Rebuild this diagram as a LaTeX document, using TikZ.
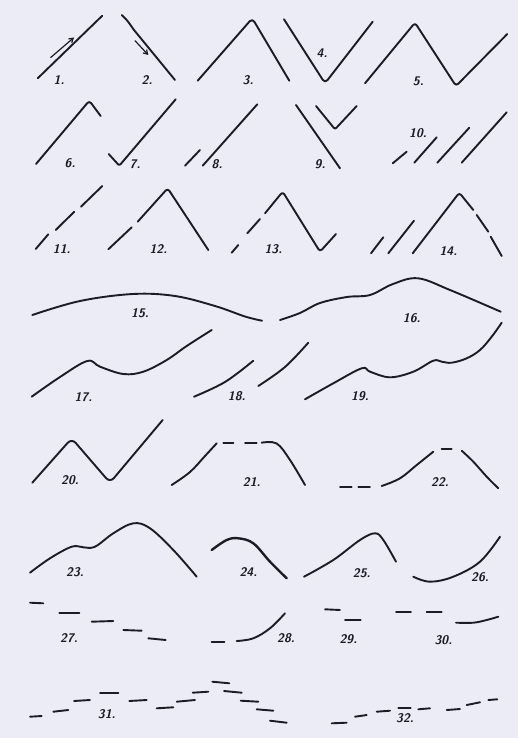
\documentclass[tikz,border=0pt]{standalone}
\usetikzlibrary{arrows.meta}
\definecolor{paper}{HTML}{ECECF6}
\definecolor{inkc}{HTML}{1C1C24}
\tikzset{
  ink/.style={draw=inkc, line width=1.9pt, line cap=round, line join=round},
  thinink/.style={draw=inkc, line width=1.2pt, line cap=round},
  lbl/.style={font=\sffamily\bfseries\slshape\fontsize{12.5}{12.5}\selectfont, text=inkc, inner sep=0pt, anchor=center},
  sm/.style={smooth, tension=0.6}
}
\begin{document}
\begin{tikzpicture}[x=1pt,y=-1pt]
\fill[paper] (0,0) rectangle (518,738);
\useasboundingbox (0,0) rectangle (518,738);

% ---------- row 1
% 1
\draw[ink] (37.7,78.3) -- (102.3,15.7);
\draw[thinink,-{Straight Barb[length=4pt,width=5pt]}] (50.7,57.5) -- (74,37.5);
\node[lbl] (l1) at (59,80) {1.};
% 2
\draw[ink] (121.7,15) .. controls (127,20) .. (134,30) -- (175,80);
\draw[thinink,-{Straight Barb[length=4pt,width=5pt]}] (135,40.7) -- (148.3,55);
\node[lbl] (l2) at (147,80) {2.};
% 3
\draw[ink, rounded corners=4pt] (197.7,80.7) -- (252.3,18.3) -- (289.3,80.7);
\node[lbl] (l3) at (248,80) {3.};
% 4
\draw[ink, rounded corners=4pt] (284,19.3) -- (325,83.3) -- (372.7,21.7);
\node[lbl] (l4) at (322,53) {4.};
% 5
\draw[ink, rounded corners=3pt] (365,83.3) -- (415,22.7) -- (456,86) -- (507.3,34);
\node[lbl] (l5) at (418.3,81.7) {5.};

% ---------- row 2
% 6
\draw[ink, rounded corners=3pt] (36,164) -- (89.3,100.7) -- (100.7,116);
\node[lbl] (l6) at (70,163.3) {6.};
% 7
\draw[ink, rounded corners=2pt] (108.7,154) -- (119.3,165.7) -- (175.7,99.3);
\node[lbl] (l7) at (135,164) {7.};
% 8
\draw[ink] (185,165.7) -- (200,150);
\draw[ink] (202.7,165.7) -- (257.3,104.3);
\node[lbl] (l8) at (217,164) {8.};
% 9
\draw[ink] (296,105) -- (340,168.3);
\draw[ink, rounded corners=2pt] (316,106) -- (335,129.3) -- (356.7,106);
\node[lbl] (l9) at (320,164) {9.};
% 10
\draw[ink] (392.7,163.3) -- (406.7,151.7);
\draw[ink] (414.3,162.7) -- (436.7,137.3);
\draw[ink] (437.3,162.7) -- (469.3,127.7);
\draw[ink] (461.7,162.7) -- (506.7,112.3);
\node[lbl] (l10) at (418,133.3) {10.};

% ---------- row 3
% 11
\draw[ink] (35.7,249) -- (48.3,234.3);
\draw[ink] (55.7,230) -- (74.3,211.7);
\draw[ink] (81,206.7) -- (102.3,186);
\node[lbl] (l11) at (61.7,249.5) {11.};
% 12
\draw[ink] (108.3,249.3) -- (131.7,227.3);
\draw[ink, rounded corners=3pt] (137.7,221.7) -- (167.7,188.3) -- (208.3,250);
\node[lbl] (l12) at (158.3,249.5) {12.};
% 13
\draw[ink] (231.7,252.7) -- (238.3,245);
\draw[ink] (247.3,233.3) -- (260,219);
\draw[ink, rounded corners=3pt] (265,213.3) -- (282.7,191.7) -- (320,251.7) -- (336,234);
\node[lbl] (l13) at (273.3,249.3) {13.};
% 14
\draw[ink] (371,253.3) -- (383.3,237.3);
\draw[ink] (388.3,253.3) -- (414,220.7);
\draw[ink, rounded corners=3pt] (412.7,253.3) -- (459.3,192.7) -- (473.3,210);
\draw[ink] (476.7,215) -- (488.3,231.7);
\draw[ink] (490.7,236.7) -- (501.7,256);
\node[lbl] (l14) at (448.3,250.7) {14.};

% ---------- curves 15-19
% 15
\draw[ink] plot[sm] coordinates {(32.3,315) (80,301) (133,294) (175,296) (215,306) (245,316.5) (262,320.7)};
\node[lbl] (l15) at (140,313.3) {15.};
% 16
\draw[ink] plot[sm] coordinates {(280,320) (300,313) (320,303) (347,297) (370,295) (393,284) (418,278.3) (450,290) (500.7,311.7)};
\node[lbl] (l16) at (411.7,318.3) {16.};
% 17
\draw[ink] plot[sm] coordinates {(31.7,396.7) (60,377) (87.3,361) (100,366.7) (123.3,374) (143.3,371.7) (166.7,360) (186.7,346) (211.7,330)};
\node[lbl] (l17) at (83.3,396.7) {17.};
% 18
\draw[ink] plot[sm] coordinates {(194,396.7) (225,382) (253.3,360.7)};
\draw[ink] plot[sm] coordinates {(258.3,386) (285,367) (308.3,342.7)};
\node[lbl] (l18) at (236.7,396) {18.};
% 19
\draw[ink] plot[sm] coordinates {(305,399.3) (333.3,383.3) (361.7,368.3) (370,371.7) (390,377.3) (413.3,371.7) (433.3,360.7) (441.7,361.7) (451.7,362.7) (466.7,358.3) (480,350) (491.7,336.7) (501.7,322.7)};
\node[lbl] (l19) at (360,396) {19.};

% ---------- 20-22
% 20
\draw[ink, rounded corners=6pt] (32.3,482.7) -- (71.7,438.3) -- (110,482.7) -- (162.7,420);
\node[lbl] (l20) at (70,480) {20.};
% 21
\draw[ink] plot[sm] coordinates {(171.7,485) (190,472) (205,456) (216.7,443.3)};
\draw[ink] (223.3,442.7) -- (233.3,442.7);
\draw[ink] (245,442.7) -- (256.7,442.7);
\draw[ink] plot[sm] coordinates {(261.7,442.7) (276.7,443.5) (290,460) (305,485)};
\node[lbl] (l21) at (251.7,481.7) {21.};
% 22
\draw[ink] (340,487.3) -- (351.7,487.3);
\draw[ink] (358.3,487.3) -- (370,487.3);
\draw[ink] plot[sm] coordinates {(381.7,486) (400,478.3) (416.7,465) (433.3,451.7)};
\draw[ink] (441.7,449.3) -- (451.7,449.3);
\draw[ink] plot[sm] coordinates {(461.7,450.7) (473.3,461.7) (486.7,476.7) (498.3,488.3)};
\node[lbl] (l22) at (440,481.7) {22.};

% ---------- 23-26
% 23
\draw[ink] plot[sm] coordinates {(30,572.7) (50,558.3) (71.7,546.7) (83.3,547.3) (95,546.7) (113.3,533.3) (133.3,523.3) (150,528.3) (173.3,550) (196.7,576.7)};
\node[lbl] (l23) at (75,571.7) {23.};
% 24
\draw[ink, line width=2.4pt] plot[sm] coordinates {(211.7,550) (226.7,540) (238.3,538.3) (253.3,543.3) (270,561.7) (286.7,578.3)};
\node[lbl] (l24) at (248.3,571.7) {24.};
% 25
\draw[ink] plot[sm] coordinates {(304,576.7) (333.3,560) (360,540) (375,533.3) (383.3,540) (396,561.7)};
\node[lbl] (l25) at (361.7,573.3) {25.};
% 26
\draw[ink] plot[sm] coordinates {(413.3,576.7) (430,581.7) (453.3,576.7) (480,561.7) (500,536.7)};
\node[lbl] (l26) at (480,576.7) {26.};

% ---------- 27-30
% 27
\draw[ink] (30,602.7) -- (43.3,603.3);
\draw[ink] (59.3,612.7) -- (79.3,612.7);
\draw[ink] (91.7,621.7) -- (113.3,621);
\draw[ink] (123.3,630) -- (141.7,630.7);
\draw[ink] (148.3,638.3) -- (165.7,640);
\node[lbl] (l27) at (69,637.7) {27.};
% 28
\draw[ink] (211.7,641.7) -- (224.3,641.7);
\draw[ink] plot[sm] coordinates {(236.7,641) (253.3,638.3) (270,628.3) (285,613.3)};
\node[lbl] (l28) at (286,638.3) {28.};
% 29
\draw[ink] (325,609.3) -- (340,610);
\draw[ink] (345,620) -- (360.7,620);
\node[lbl] (l29) at (348.3,639) {29.};
% 30
\draw[ink] (396,611.7) -- (411,611.7);
\draw[ink] (426.7,611.7) -- (441.7,611.7);
\draw[ink] plot[sm] coordinates {(456,622.7) (473.3,622.7) (486.7,620) (498.3,616.7)};
\node[lbl] (l30) at (443.3,640) {30.};

% ---------- 31-32
% 31
\draw[ink] (30,716.7) -- (41.7,716);
\draw[ink] (53.3,711.7) -- (68.3,710);
\draw[ink] (74,701) -- (90,700);
\draw[ink] (100,693.3) -- (118.3,693.3);
\draw[ink] (129.3,701) -- (146.7,700);
\draw[ink] (156.7,708.3) -- (173.3,707.3);
\draw[ink] (176.7,701.7) -- (195,700);
\draw[ink] (192.7,692.7) -- (208.3,691.7);
\draw[ink] (212.3,681.7) -- (229.3,683.3);
\draw[ink] (224,691) -- (241.7,692.7);
\draw[ink] (240.7,700.7) -- (258.3,701.7);
\draw[ink] (256.7,709.3) -- (273.3,710.7);
\draw[ink] (270,720.7) -- (286.7,722.7);
\node[lbl] (l31) at (106.7,714.3) {31.};
% 32
\draw[ink] (331.7,723.3) -- (346.7,722.7);
\draw[ink] (355,716.7) -- (366.7,715);
\draw[ink] (376.7,711.7) -- (390,710.7);
\draw[ink] (398.3,708.3) -- (410.7,708.3);
\draw[ink] (418.3,709.3) -- (430,708.3);
\draw[ink] (446.7,710) -- (460,709);
\draw[ink] (466.7,705) -- (480,702.3);
\draw[ink] (488.3,700) -- (497.3,699.3);
\node[lbl] (l32) at (405,718.3) {32.};
\end{tikzpicture}
\end{document}
